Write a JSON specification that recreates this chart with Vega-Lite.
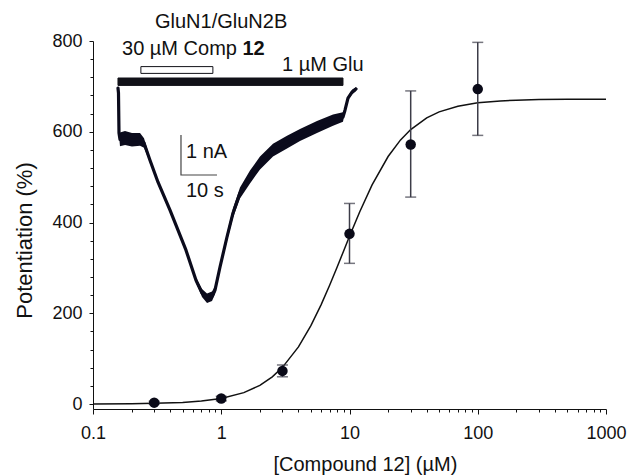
{
  "$schema": "https://vega.github.io/schema/vega-lite/v6.json",
  "width": 513,
  "height": 368,
  "autosize": {"type": "none"},
  "padding": {"left": 93, "top": 41, "right": 30, "bottom": 66},
  "background": "white",
  "config": {
    "view": {"stroke": null},
    "font": "Liberation Sans",
    "axis": {"grid": false, "labelFont": "Liberation Sans", "titleFont": "Liberation Sans"}
  },
  "datasets": {
    "curve": [
      {"conc": 0.1, "fit": 0.2}, {"conc": 0.2, "fit": 0.7}, {"conc": 0.3, "fit": 1.4},
      {"conc": 0.5, "fit": 3.5}, {"conc": 0.7, "fit": 6.4}, {"conc": 1, "fit": 12.2},
      {"conc": 1.5, "fit": 25}, {"conc": 2, "fit": 41.2}, {"conc": 2.5, "fit": 59.9},
      {"conc": 3, "fit": 80.8}, {"conc": 4, "fit": 125.8}, {"conc": 5, "fit": 172.7},
      {"conc": 6, "fit": 218.5}, {"conc": 7, "fit": 261.8}, {"conc": 8, "fit": 301.5},
      {"conc": 9, "fit": 337.3}, {"conc": 10, "fit": 369.5}, {"conc": 12, "fit": 423.3},
      {"conc": 15, "fit": 482.9}, {"conc": 20, "fit": 545.4}, {"conc": 25, "fit": 582.1},
      {"conc": 30, "fit": 604.9}, {"conc": 40, "fit": 630.6}, {"conc": 50, "fit": 643.8},
      {"conc": 70, "fit": 656.4}, {"conc": 100, "fit": 663.8}, {"conc": 150, "fit": 668},
      {"conc": 200, "fit": 669.6}, {"conc": 300, "fit": 670.9}, {"conc": 500, "fit": 671.6},
      {"conc": 1000, "fit": 671.9}
    ],
    "points": [
      {"conc": 0.3, "mean": 3, "lo": 0, "hi": 6},
      {"conc": 1, "mean": 12, "lo": 7, "hi": 17},
      {"conc": 3, "mean": 73, "lo": 60, "hi": 86},
      {"conc": 10, "mean": 375, "lo": 310, "hi": 442},
      {"conc": 30, "mean": 572, "lo": 456, "hi": 690},
      {"conc": 100, "mean": 694, "lo": 592, "hi": 797}
    ],
    "trace": [
      {"t": 6.94, "current": -1.175, "hi": -1.15, "lo": -1.2},
      {"t": 7.08, "current": -1.3, "hi": -1.28, "lo": -1.32},
      {"t": 7.22, "current": -2.3, "hi": -2.25, "lo": -2.35},
      {"t": 7.5, "current": -2.46, "hi": -2.29, "lo": -2.63},
      {"t": 8.89, "current": -2.43, "hi": -2.25, "lo": -2.6},
      {"t": 10.83, "current": -2.47, "hi": -2.3, "lo": -2.64},
      {"t": 13.06, "current": -2.46, "hi": -2.3, "lo": -2.62},
      {"t": 14.17, "current": -2.55, "hi": -2.43, "lo": -2.67},
      {"t": 15.83, "current": -2.98, "hi": -2.92, "lo": -3.04},
      {"t": 18.06, "current": -3.53, "hi": -3.48, "lo": -3.58},
      {"t": 21.39, "current": -4.23, "hi": -4.18, "lo": -4.28},
      {"t": 25.83, "current": -5.23, "hi": -5.18, "lo": -5.28},
      {"t": 28.61, "current": -5.98, "hi": -5.92, "lo": -6.04},
      {"t": 30.28, "current": -6.3, "hi": -6.2, "lo": -6.4},
      {"t": 31.67, "current": -6.43, "hi": -6.31, "lo": -6.55},
      {"t": 33.06, "current": -6.38, "hi": -6.26, "lo": -6.5},
      {"t": 33.89, "current": -6.23, "hi": -6.13, "lo": -6.33},
      {"t": 35.28, "current": -5.65, "hi": -5.57, "lo": -5.73},
      {"t": 37.22, "current": -4.9, "hi": -4.8, "lo": -5.0},
      {"t": 38.89, "current": -4.3, "hi": -4.18, "lo": -4.42},
      {"t": 40.83, "current": -3.8, "hi": -3.66, "lo": -3.94},
      {"t": 43.61, "current": -3.4, "hi": -3.24, "lo": -3.56},
      {"t": 46.39, "current": -3.05, "hi": -2.89, "lo": -3.21},
      {"t": 50.0, "current": -2.73, "hi": -2.57, "lo": -2.89},
      {"t": 53.89, "current": -2.53, "hi": -2.37, "lo": -2.69},
      {"t": 57.5, "current": -2.35, "hi": -2.2, "lo": -2.5},
      {"t": 62.22, "current": -2.15, "hi": -2.0, "lo": -2.3},
      {"t": 66.67, "current": -1.98, "hi": -1.84, "lo": -2.12},
      {"t": 69.44, "current": -1.9, "hi": -1.78, "lo": -2.02},
      {"t": 70.0, "current": -1.73, "hi": -1.68, "lo": -1.78},
      {"t": 70.83, "current": -1.43, "hi": -1.38, "lo": -1.48},
      {"t": 71.94, "current": -1.28, "hi": -1.22, "lo": -1.34},
      {"t": 73.06, "current": -1.2, "hi": -1.15, "lo": -1.25}
    ],
    "bars": [
      {"t0": 6.94, "t1": 69.44, "c0": -0.925, "c1": -1.11, "fill": "#111118"},
      {"t0": 13.3, "t1": 33.3, "c0": -0.64, "c1": -0.81, "fill": "#ffffff"}
    ],
    "scalebar": [
      {"t": 34.44, "current": -3.35, "order": 1},
      {"t": 24.44, "current": -3.35, "order": 2},
      {"t": 24.44, "current": -2.35, "order": 3}
    ],
    "labels": [
      {"t": 17.22, "current": 0.325, "text": "GluN1/GluN2B"},
      {"t": 8.06, "current": -0.35, "text": "30 µM Comp"},
      {"t": 52.5, "current": -0.75, "text": "1 µM Glu"},
      {"t": 25.83, "current": -2.925, "text": "1 nA"},
      {"t": 25.83, "current": -3.9, "text": "10 s"}
    ],
    "boldlabels": [
      {"t": 41.5, "current": -0.35, "text": "12"}
    ]
  },
  "layer": [
    {
      "layer": [
        {
          "data": {"name": "curve"},
          "mark": {"type": "line", "color": "#111111", "strokeWidth": 1.5},
          "encoding": {
            "x": {
              "field": "conc", "type": "quantitative",
              "scale": {"type": "log", "domain": [0.1, 1000], "nice": false},
              "axis": {
                "values": [0.1, 0.2, 0.3, 0.4, 0.5, 0.6, 0.7, 0.8, 0.9, 1, 2, 3, 4, 5, 6, 7, 8, 9, 10, 20, 30, 40, 50, 60, 70, 80, 90, 100, 200, 300, 400, 500, 600, 700, 800, 900, 1000],
                "labelExpr": "indexof([0.1,1,10,100,1000], datum.value) >= 0 ? (datum.value < 1 ? '0.1' : format(datum.value, 'd')) : ''",
                "tickSize": {"condition": {"test": "indexof([0.1,1,10,100,1000], datum.value) >= 0", "value": 5}, "value": 3},
                "labelFontSize": 18, "labelPadding": 10, "labelColor": "#111111",
                "labelOverlap": false, "labelFlush": false,
                "domainColor": "#111111", "tickColor": "#111111",
                "title": "[Compound 12] (µM)", "titleFontSize": 20, "titleFontWeight": "normal", "titleColor": "#111111",
                "titleX": 180, "titleY": 61, "titleAlign": "left", "titleBaseline": "alphabetic"
              }
            },
            "y": {
              "field": "fit", "type": "quantitative",
              "scale": {"domain": [-11, 800], "nice": false, "zero": false},
              "axis": {
                "values": [0, 40, 80, 120, 160, 200, 240, 280, 320, 360, 400, 440, 480, 520, 560, 600, 640, 680, 720, 760, 800],
                "labelExpr": "datum.value % 200 === 0 ? datum.label : ''",
                "tickSize": {"condition": {"test": "datum.value % 200 === 0", "value": 4}, "value": 3},
                "labelFontSize": 18, "labelPadding": 7, "labelColor": "#111111", "labelOverlap": false,
                "domainColor": "#111111", "tickColor": "#111111",
                "title": "Potentiation (%)", "titleFontSize": 22, "titleFontWeight": "normal", "titleColor": "#111111",
                "titleX": -69, "titleY": 199, "titleAngle": 270, "titleAlign": "center", "titleBaseline": "middle"
              }
            }
          }
        },
        {
          "data": {"name": "points"},
          "mark": {"type": "rule", "color": "#3c3c48", "strokeWidth": 1.5},
          "encoding": {
            "x": {
              "field": "conc", "type": "quantitative",
              "scale": {"type": "log", "domain": [0.1, 1000], "nice": false},
              "axis": {
                "values": [0.1, 0.2, 0.3, 0.4, 0.5, 0.6, 0.7, 0.8, 0.9, 1, 2, 3, 4, 5, 6, 7, 8, 9, 10, 20, 30, 40, 50, 60, 70, 80, 90, 100, 200, 300, 400, 500, 600, 700, 800, 900, 1000],
                "labelExpr": "indexof([0.1,1,10,100,1000], datum.value) >= 0 ? (datum.value < 1 ? '0.1' : format(datum.value, 'd')) : ''",
                "tickSize": {"condition": {"test": "indexof([0.1,1,10,100,1000], datum.value) >= 0", "value": 5}, "value": 3},
                "labelFontSize": 18, "labelPadding": 10, "labelColor": "#111111",
                "labelOverlap": false, "labelFlush": false,
                "domainColor": "#111111", "tickColor": "#111111",
                "title": "[Compound 12] (µM)", "titleFontSize": 20, "titleFontWeight": "normal", "titleColor": "#111111",
                "titleX": 180, "titleY": 61, "titleAlign": "left", "titleBaseline": "alphabetic"
              }
            },
            "y": {
              "field": "lo", "type": "quantitative",
              "scale": {"domain": [-11, 800], "nice": false, "zero": false},
              "axis": {
                "values": [0, 40, 80, 120, 160, 200, 240, 280, 320, 360, 400, 440, 480, 520, 560, 600, 640, 680, 720, 760, 800],
                "labelExpr": "datum.value % 200 === 0 ? datum.label : ''",
                "tickSize": {"condition": {"test": "datum.value % 200 === 0", "value": 4}, "value": 3},
                "labelFontSize": 18, "labelPadding": 7, "labelColor": "#111111", "labelOverlap": false,
                "domainColor": "#111111", "tickColor": "#111111",
                "title": "Potentiation (%)", "titleFontSize": 22, "titleFontWeight": "normal", "titleColor": "#111111",
                "titleX": -69, "titleY": 199, "titleAngle": 270, "titleAlign": "center", "titleBaseline": "middle"
              }
            },
            "y2": {"field": "hi"}
          }
        },
        {
          "data": {"name": "points"},
          "mark": {"type": "tick", "orient": "horizontal", "color": "#3c3c48", "size": 11, "thickness": 1.5},
          "encoding": {
            "x": {
              "field": "conc", "type": "quantitative",
              "scale": {"type": "log", "domain": [0.1, 1000], "nice": false},
              "axis": {
                "values": [0.1, 0.2, 0.3, 0.4, 0.5, 0.6, 0.7, 0.8, 0.9, 1, 2, 3, 4, 5, 6, 7, 8, 9, 10, 20, 30, 40, 50, 60, 70, 80, 90, 100, 200, 300, 400, 500, 600, 700, 800, 900, 1000],
                "labelExpr": "indexof([0.1,1,10,100,1000], datum.value) >= 0 ? (datum.value < 1 ? '0.1' : format(datum.value, 'd')) : ''",
                "tickSize": {"condition": {"test": "indexof([0.1,1,10,100,1000], datum.value) >= 0", "value": 5}, "value": 3},
                "labelFontSize": 18, "labelPadding": 10, "labelColor": "#111111",
                "labelOverlap": false, "labelFlush": false,
                "domainColor": "#111111", "tickColor": "#111111",
                "title": "[Compound 12] (µM)", "titleFontSize": 20, "titleFontWeight": "normal", "titleColor": "#111111",
                "titleX": 180, "titleY": 61, "titleAlign": "left", "titleBaseline": "alphabetic"
              }
            },
            "y": {
              "field": "lo", "type": "quantitative",
              "scale": {"domain": [-11, 800], "nice": false, "zero": false},
              "axis": {
                "values": [0, 40, 80, 120, 160, 200, 240, 280, 320, 360, 400, 440, 480, 520, 560, 600, 640, 680, 720, 760, 800],
                "labelExpr": "datum.value % 200 === 0 ? datum.label : ''",
                "tickSize": {"condition": {"test": "datum.value % 200 === 0", "value": 4}, "value": 3},
                "labelFontSize": 18, "labelPadding": 7, "labelColor": "#111111", "labelOverlap": false,
                "domainColor": "#111111", "tickColor": "#111111",
                "title": "Potentiation (%)", "titleFontSize": 22, "titleFontWeight": "normal", "titleColor": "#111111",
                "titleX": -69, "titleY": 199, "titleAngle": 270, "titleAlign": "center", "titleBaseline": "middle"
              }
            }
          }
        },
        {
          "data": {"name": "points"},
          "mark": {"type": "tick", "orient": "horizontal", "color": "#3c3c48", "size": 11, "thickness": 1.5},
          "encoding": {
            "x": {
              "field": "conc", "type": "quantitative",
              "scale": {"type": "log", "domain": [0.1, 1000], "nice": false},
              "axis": {
                "values": [0.1, 0.2, 0.3, 0.4, 0.5, 0.6, 0.7, 0.8, 0.9, 1, 2, 3, 4, 5, 6, 7, 8, 9, 10, 20, 30, 40, 50, 60, 70, 80, 90, 100, 200, 300, 400, 500, 600, 700, 800, 900, 1000],
                "labelExpr": "indexof([0.1,1,10,100,1000], datum.value) >= 0 ? (datum.value < 1 ? '0.1' : format(datum.value, 'd')) : ''",
                "tickSize": {"condition": {"test": "indexof([0.1,1,10,100,1000], datum.value) >= 0", "value": 5}, "value": 3},
                "labelFontSize": 18, "labelPadding": 10, "labelColor": "#111111",
                "labelOverlap": false, "labelFlush": false,
                "domainColor": "#111111", "tickColor": "#111111",
                "title": "[Compound 12] (µM)", "titleFontSize": 20, "titleFontWeight": "normal", "titleColor": "#111111",
                "titleX": 180, "titleY": 61, "titleAlign": "left", "titleBaseline": "alphabetic"
              }
            },
            "y": {
              "field": "hi", "type": "quantitative",
              "scale": {"domain": [-11, 800], "nice": false, "zero": false},
              "axis": {
                "values": [0, 40, 80, 120, 160, 200, 240, 280, 320, 360, 400, 440, 480, 520, 560, 600, 640, 680, 720, 760, 800],
                "labelExpr": "datum.value % 200 === 0 ? datum.label : ''",
                "tickSize": {"condition": {"test": "datum.value % 200 === 0", "value": 4}, "value": 3},
                "labelFontSize": 18, "labelPadding": 7, "labelColor": "#111111", "labelOverlap": false,
                "domainColor": "#111111", "tickColor": "#111111",
                "title": "Potentiation (%)", "titleFontSize": 22, "titleFontWeight": "normal", "titleColor": "#111111",
                "titleX": -69, "titleY": 199, "titleAngle": 270, "titleAlign": "center", "titleBaseline": "middle"
              }
            }
          }
        },
        {
          "data": {"name": "points"},
          "mark": {"type": "circle", "color": "#0a0a18", "size": 110, "opacity": 1},
          "encoding": {
            "x": {
              "field": "conc", "type": "quantitative",
              "scale": {"type": "log", "domain": [0.1, 1000], "nice": false},
              "axis": {
                "values": [0.1, 0.2, 0.3, 0.4, 0.5, 0.6, 0.7, 0.8, 0.9, 1, 2, 3, 4, 5, 6, 7, 8, 9, 10, 20, 30, 40, 50, 60, 70, 80, 90, 100, 200, 300, 400, 500, 600, 700, 800, 900, 1000],
                "labelExpr": "indexof([0.1,1,10,100,1000], datum.value) >= 0 ? (datum.value < 1 ? '0.1' : format(datum.value, 'd')) : ''",
                "tickSize": {"condition": {"test": "indexof([0.1,1,10,100,1000], datum.value) >= 0", "value": 5}, "value": 3},
                "labelFontSize": 18, "labelPadding": 10, "labelColor": "#111111",
                "labelOverlap": false, "labelFlush": false,
                "domainColor": "#111111", "tickColor": "#111111",
                "title": "[Compound 12] (µM)", "titleFontSize": 20, "titleFontWeight": "normal", "titleColor": "#111111",
                "titleX": 180, "titleY": 61, "titleAlign": "left", "titleBaseline": "alphabetic"
              }
            },
            "y": {
              "field": "mean", "type": "quantitative",
              "scale": {"domain": [-11, 800], "nice": false, "zero": false},
              "axis": {
                "values": [0, 40, 80, 120, 160, 200, 240, 280, 320, 360, 400, 440, 480, 520, 560, 600, 640, 680, 720, 760, 800],
                "labelExpr": "datum.value % 200 === 0 ? datum.label : ''",
                "tickSize": {"condition": {"test": "datum.value % 200 === 0", "value": 4}, "value": 3},
                "labelFontSize": 18, "labelPadding": 7, "labelColor": "#111111", "labelOverlap": false,
                "domainColor": "#111111", "tickColor": "#111111",
                "title": "Potentiation (%)", "titleFontSize": 22, "titleFontWeight": "normal", "titleColor": "#111111",
                "titleX": -69, "titleY": 199, "titleAngle": 270, "titleAlign": "center", "titleBaseline": "middle"
              }
            }
          }
        }
      ]
    },
    {
      "layer": [
        {
          "data": {"name": "trace"},
          "mark": {"type": "area", "color": "#0b0b1c", "opacity": 1},
          "encoding": {
            "x": {"field": "t", "type": "quantitative", "scale": {"domain": [0, 142.5], "nice": false, "zero": false}, "axis": null},
            "y": {"field": "hi", "type": "quantitative", "scale": {"domain": [-9.2, 0], "nice": false, "zero": false}, "axis": null},
            "y2": {"field": "lo"}
          }
        },
        {
          "data": {"name": "trace"},
          "mark": {"type": "line", "color": "#0b0b1c", "strokeWidth": 3.2, "strokeJoin": "round", "strokeCap": "round"},
          "encoding": {
            "x": {"field": "t", "type": "quantitative", "scale": {"domain": [0, 142.5], "nice": false, "zero": false}, "axis": null},
            "y": {"field": "current", "type": "quantitative", "scale": {"domain": [-9.2, 0], "nice": false, "zero": false}, "axis": null}
          }
        },
        {
          "data": {"name": "bars"},
          "mark": {"type": "rect", "stroke": "#111118", "strokeWidth": 1},
          "encoding": {
            "x": {"field": "t0", "type": "quantitative", "scale": {"domain": [0, 142.5], "nice": false, "zero": false}, "axis": null},
            "x2": {"field": "t1"},
            "y": {"field": "c0", "type": "quantitative", "scale": {"domain": [-9.2, 0], "nice": false, "zero": false}, "axis": null},
            "y2": {"field": "c1"},
            "fill": {"field": "fill", "type": "nominal", "scale": null}
          }
        },
        {
          "data": {"name": "scalebar"},
          "mark": {"type": "line", "color": "#444444", "strokeWidth": 1.2},
          "encoding": {
            "x": {"field": "t", "type": "quantitative", "scale": {"domain": [0, 142.5], "nice": false, "zero": false}, "axis": null},
            "y": {"field": "current", "type": "quantitative", "scale": {"domain": [-9.2, 0], "nice": false, "zero": false}, "axis": null},
            "order": {"field": "order"}
          }
        },
        {
          "data": {"name": "labels"},
          "mark": {"type": "text", "align": "left", "baseline": "alphabetic", "fontSize": 20, "font": "Liberation Sans", "color": "#111111"},
          "encoding": {
            "x": {"field": "t", "type": "quantitative", "scale": {"domain": [0, 142.5], "nice": false, "zero": false}, "axis": null},
            "y": {"field": "current", "type": "quantitative", "scale": {"domain": [-9.2, 0], "nice": false, "zero": false}, "axis": null},
            "text": {"field": "text"}
          }
        },
        {
          "data": {"name": "boldlabels"},
          "mark": {"type": "text", "align": "left", "baseline": "alphabetic", "fontSize": 20, "fontWeight": "bold", "font": "Liberation Sans", "color": "#111111"},
          "encoding": {
            "x": {"field": "t", "type": "quantitative", "scale": {"domain": [0, 142.5], "nice": false, "zero": false}, "axis": null},
            "y": {"field": "current", "type": "quantitative", "scale": {"domain": [-9.2, 0], "nice": false, "zero": false}, "axis": null},
            "text": {"field": "text"}
          }
        }
      ]
    }
  ],
  "resolve": {"scale": {"x": "independent", "y": "independent"}}
}
